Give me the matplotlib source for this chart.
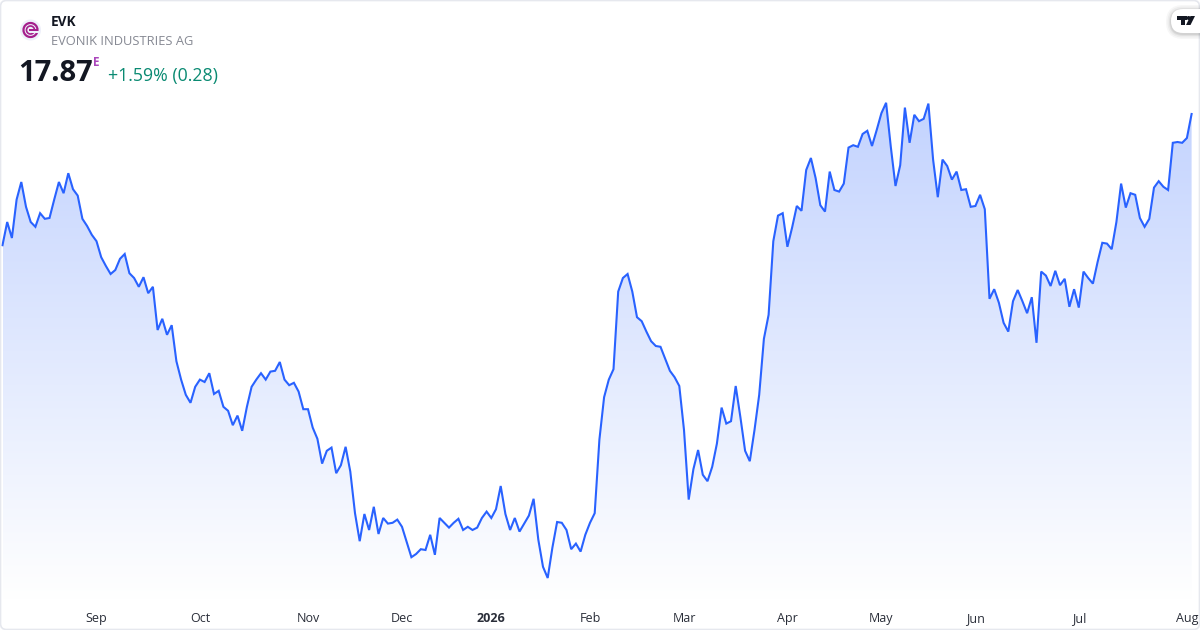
# coding: utf-8
import matplotlib
matplotlib.use('Agg')
import matplotlib.pyplot as plt
from matplotlib.colors import LinearSegmentedColormap
from matplotlib.patches import Arc, Circle, FancyBboxPatch, Polygon, Rectangle
import numpy as np

plt.rcParams['font.family'] = ['Open Sans', 'DejaVu Sans']

prices = [
    16.23, 16.52, 16.32, 16.80, 17.02, 16.71, 16.52, 16.46, 16.63, 16.56, 16.57, 16.80, 17.02, 16.88, 17.13, 16.93,
    16.85, 16.56, 16.47, 16.36, 16.28, 16.08, 15.97, 15.87, 15.92, 16.06, 16.12, 15.88, 15.82, 15.71, 15.83, 15.63,
    15.71, 15.17, 15.31, 15.11, 15.23, 14.78, 14.55, 14.36, 14.26, 14.46, 14.55, 14.52, 14.63, 14.37, 14.41, 14.21,
    14.16, 13.98, 14.10, 13.91, 14.21, 14.46, 14.55, 14.63, 14.55, 14.65, 14.66, 14.77, 14.55, 14.48, 14.51, 14.40,
    14.18, 14.18, 13.95, 13.81, 13.50, 13.66, 13.70, 13.38, 13.48, 13.71, 13.40, 12.88, 12.53, 12.87, 12.67, 12.96,
    12.62, 12.82, 12.75, 12.76, 12.80, 12.71, 12.52, 12.33, 12.37, 12.43, 12.42, 12.61, 12.36, 12.82, 12.76, 12.70,
    12.76, 12.81, 12.67, 12.71, 12.67, 12.70, 12.82, 12.90, 12.82, 12.93, 13.22, 12.87, 12.67, 12.82, 12.65, 12.75,
    12.85, 13.06, 12.55, 12.21, 12.07, 12.45, 12.77, 12.76, 12.67, 12.43, 12.50, 12.40, 12.61, 12.76, 12.88, 13.80,
    14.33, 14.55, 14.68, 15.65, 15.82, 15.87, 15.65, 15.33, 15.28, 15.15, 15.03, 14.97, 14.96, 14.81, 14.66, 14.58,
    14.47, 13.92, 13.05, 13.43, 13.67, 13.36, 13.28, 13.46, 13.75, 14.20, 14.00, 14.03, 14.47, 14.08, 13.66, 13.53,
    13.92, 14.36, 15.06, 15.36, 16.28, 16.60, 16.63, 16.21, 16.45, 16.72, 16.66, 17.17, 17.32, 17.07, 16.73, 16.65,
    17.15, 16.92, 16.90, 17.00, 17.45, 17.48, 17.46, 17.62, 17.66, 17.47, 17.67, 17.88, 18.01, 17.46, 16.97, 17.23,
    17.95, 17.51, 17.86, 17.78, 17.81, 18.00, 17.30, 16.83, 17.30, 17.22, 17.05, 17.15, 16.92, 16.93, 16.71, 16.72,
    16.86, 16.68, 15.56, 15.68, 15.51, 15.26, 15.15, 15.53, 15.67, 15.53, 15.38, 15.58, 15.01, 15.90, 15.85, 15.72,
    15.91, 15.73, 15.81, 15.46, 15.68, 15.45, 15.90, 15.82, 15.75, 16.02, 16.26, 16.25, 16.18, 16.52, 17.00, 16.70,
    16.88, 16.86, 16.57, 16.46, 16.56, 16.95, 17.03, 16.96, 16.92, 17.51, 17.52, 17.51, 17.57, 17.87,
]
month_labels = ['Sep', 'Oct', 'Nov', 'Dec', '2026', 'Feb', 'Mar', 'Apr', 'May', 'Jun', 'Jul', 'Aug']
month_index = [20, 42, 65, 85, 104, 125, 145, 167, 187, 207, 229, 252]

W, H = 1200, 630
LINE = '#2962FF'
LOGO = '#a51e8c'
LOGO_BG = '#eef0fa'

fig = plt.figure(figsize=(12, 6.3), dpi=100, facecolor='white')

# price pane, the whole figure, so pixel placement stays simple
ax = fig.add_axes([0, 0, 1, 1])
x = np.arange(len(prices))
y = np.array(prices)
x_step = 4.70
x_left = -2.5 / x_step
ax.axis('off')

# gradient under the line
y_top = y.max()
y_bottom = 11.80
cmap = LinearSegmentedColormap.from_list('fade', ['#ffffff', '#c3d3fe'])
img = ax.imshow(np.linspace(1, 0, 256).reshape(-1, 1), cmap=cmap, vmin=0, vmax=1, aspect='auto',
                extent=[x[0], x[-1], y_bottom, y_top], zorder=1)
clip = Polygon(np.column_stack([np.r_[x[0], x, x[-1]], np.r_[y_bottom, y, y_bottom]]),
               closed=True, transform=ax.transData, facecolor='none', edgecolor='none')
ax.add_patch(clip)
img.set_clip_path(clip)
ax.set_xlim(x_left, x_left + W / x_step)
ax.set_ylim(11.42, 19.295)

ax.plot(x, y, color=LINE, linewidth=1.5, solid_joinstyle='miter', zorder=2)

for idx, lab in zip(month_index, month_labels):
    ax.text(idx, 11.42 + 11.5 / 80, lab, ha='center', va='center', fontsize=9, color='#2a2e39',
            fontweight='bold' if lab == '2026' else 'normal', zorder=3)

# overlay in pixel coordinates for header and logos
ov = fig.add_axes([0, 0, 1, 1], facecolor='none')
ov.set_xlim(0, W)
ov.set_ylim(H, 0)
ov.axis('off')

ov.add_patch(FancyBboxPatch((0.5, 0.5), W - 1, H - 1, boxstyle='round,pad=0,rounding_size=6',
                            facecolor='none', edgecolor='#e6e8ee', linewidth=1.2))

# company logo
ov.add_patch(Circle((30.5, 30), 10.5, facecolor=LOGO_BG, edgecolor='none'))
ov.add_patch(Arc((30.5, 30), 14, 14, theta1=0, theta2=360, color=LOGO, linewidth=1.6))
ov.add_patch(Arc((30.5, 30), 8, 8, theta1=0, theta2=360, color=LOGO, linewidth=1.2))
ov.add_patch(Rectangle((28.5, 29.2), 9.5, 1.7, facecolor=LOGO, edgecolor='none'))
ov.add_patch(Rectangle((32, 31), 6.5, 1.6, facecolor=LOGO_BG, edgecolor='none'))

ov.text(51, 22, 'EVK', fontsize=9.8, fontweight='bold', color='#131722', va='center', ha='left')
ov.text(51, 41.5, 'EVONIK INDUSTRIES AG', fontsize=9.3, color='#868993', va='center', ha='left')
ov.text(18, 73.5, '17.87', fontsize=21, fontweight='bold', color='#131722', va='center', ha='left')
ov.text(93, 62, 'E', fontsize=8.5, fontweight='bold', color='#ab47bc', va='center', ha='left')
ov.text(108, 75.5, '+1.59% (0.28)', fontsize=12.75, color='#0a8a72', va='center', ha='left')

# TradingView badge
for grow, alpha in zip([5, 3.5, 2, 1], [0.03, 0.04, 0.05, 0.06]):
    ov.add_patch(FancyBboxPatch((1171 - grow, 9 - grow + 1), 50 + grow, 24 + 2 * grow,
                                boxstyle='round,pad=0,rounding_size=%g' % (12 + grow),
                                facecolor='black', edgecolor='none', alpha=alpha))
ov.add_patch(FancyBboxPatch((1171, 9), 50, 24, boxstyle='round,pad=0,rounding_size=12',
                            facecolor='white', edgecolor='none'))
ov.add_patch(Rectangle((1177, 16), 9.5, 3.8, facecolor='#131722', edgecolor='none'))
ov.add_patch(Rectangle((1180.5, 16), 4, 9, facecolor='#131722', edgecolor='none'))
ov.add_patch(Circle((1188.6, 18), 2, facecolor='#131722', edgecolor='none'))
ov.add_patch(Polygon([(1190.5, 16), (1195, 16), (1190.5, 25), (1186, 25)], closed=True,
                     facecolor='#131722', edgecolor='none'))

fig.savefig('out.png', dpi=100, facecolor='white')
plt.close(fig)
